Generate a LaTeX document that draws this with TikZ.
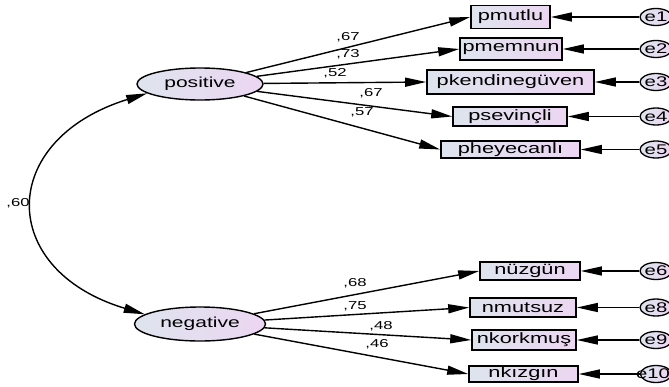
\documentclass[tikz,border=0pt]{standalone}
\usepackage{fontspec}
\setmainfont{Liberation Sans}[FakeStretch=1.45]
\usetikzlibrary{arrows.meta,shapes.geometric}

\definecolor{shadeL}{RGB}{222,228,238}
\definecolor{shadeR}{RGB}{236,214,242}

\tikzset{
  latent/.style={ellipse, draw, line width=1.4pt, left color=shadeL, right color=shadeR,
    inner sep=0pt, font=\fontsize{14.5}{16}\selectfont},
  obs/.style={rectangle, draw, line width=1.6pt, left color=shadeL, right color=shadeR,
    inner sep=0pt, font=\fontsize{15}{17}\selectfont},
  err/.style={ellipse, draw, line width=1.3pt, left color=shadeL, right color=shadeR,
    inner sep=0pt, minimum width=26pt, minimum height=17pt, font=\fontsize{14}{16}\selectfont},
  load/.style={-{Triangle[length=21pt,width=9pt]}, line width=1.4pt},
  coef/.style={inner sep=0pt, font=\fontsize{11.5}{13}\selectfont}
}

\begin{document}
\begin{tikzpicture}[x=1pt, y=-1pt]
\useasboundingbox (0,0) rectangle (669,386);

% factors
\node[latent, minimum width=126pt, minimum height=32pt] (positive) at (200, 84) {positive};
\node[latent, minimum width=131pt, minimum height=34pt] (negative) at (200, 324) {negative};

% items
\node[obs, minimum width=79pt, minimum height=23pt] (pmutlu) at (510.5, 17) {pmutlu};
\node[obs, minimum width=102pt, minimum height=22pt] (pmemnun) at (511, 49) {pmemnun};
\node[obs, minimum width=167pt, minimum height=24pt] (pkendine) at (510.5, 82) {pkendinegüven};
\node[obs, minimum width=114pt, minimum height=19pt] (psevincli) at (510, 116.5) {psevinçli};
\node[obs, minimum width=139pt, minimum height=17pt] (pheyecanli) at (510.5, 149.5) {pheyecanlı};

\node[obs, minimum width=100pt, minimum height=18pt] (nuzgun) at (530, 271) {nüzgün};
\node[obs, minimum width=106pt, minimum height=19pt] (nmutsuz) at (523, 307.5) {nmutsuz};
\node[obs, minimum width=104pt, minimum height=20pt] (nkorkmus) at (524, 340) {nkorkmuş};
\node[obs, minimum width=109pt, minimum height=16pt] (nkizgin) at (523.5, 374) {nkızgın};

% errors
\node[err] (e1) at (656, 17) {e1};
\node[err] (e2) at (656, 49) {e2};
\node[err] (e3) at (656, 82) {e3};
\node[err] (e4) at (656, 116.5) {e4};
\node[err] (e5) at (656, 149.5) {e5};
\node[err] (e6) at (656, 271) {e6};
\node[err] (e8) at (656, 307.5) {e8};
\node[err] (e9) at (656, 340) {e9};
\node[err] (e10) at (656, 374) {\makebox[22pt]{\hspace*{-6pt}e10}};

% loadings
\draw[load] (positive) -- (pmutlu.west);
\draw[load] (positive) -- (pmemnun.west);
\draw[load] (positive) -- (pkendine.west);
\draw[load] (positive) -- (psevincli.west);
\draw[load] (positive) -- (pheyecanli.west);

\draw[load] (negative) -- (nuzgun.west);
\draw[load] (negative) -- (nmutsuz.west);
\draw[load] (negative) -- (nkorkmus.west);
\draw[load] (negative) -- (nkizgin.west);

\draw[load] (e1) -- (pmutlu.east);
\draw[load] (e2) -- (pmemnun.east);
\draw[load] (e3) -- (pkendine.east);
\draw[load] (e4) -- (psevincli.east);
\draw[load] (e5) -- (pheyecanli.east);
\draw[load] (e6) -- (nuzgun.east);
\draw[load] (e8) -- (nmutsuz.east);
\draw[load] (e9) -- (nkorkmus.east);
\draw[load] (e10) -- (nkizgin.east);

% covariance
\draw[{Triangle[length=21pt,width=9pt]}-{Triangle[length=21pt,width=9pt]}, line width=1.4pt]
  (positive.190) .. controls (-3, 140) and (-3, 270) .. (negative.170);

% estimates
\node[coef] (c1) at (348, 37) {,67};
\node[coef] (c2) at (348, 54) {,73};
\node[coef] (c3) at (335, 73) {,52};
\node[coef] (c4) at (371, 93) {,67};
\node[coef] (c5) at (362, 112) {,57};
\node[coef] (c6) at (355, 283) {,68};
\node[coef] (c7) at (355, 306) {,75};
\node[coef] (c8) at (381, 326) {,48};
\node[coef] (c9) at (377, 344) {,46};
\node[coef] (c10) at (18, 203) {,60};
\end{tikzpicture}
\end{document}
